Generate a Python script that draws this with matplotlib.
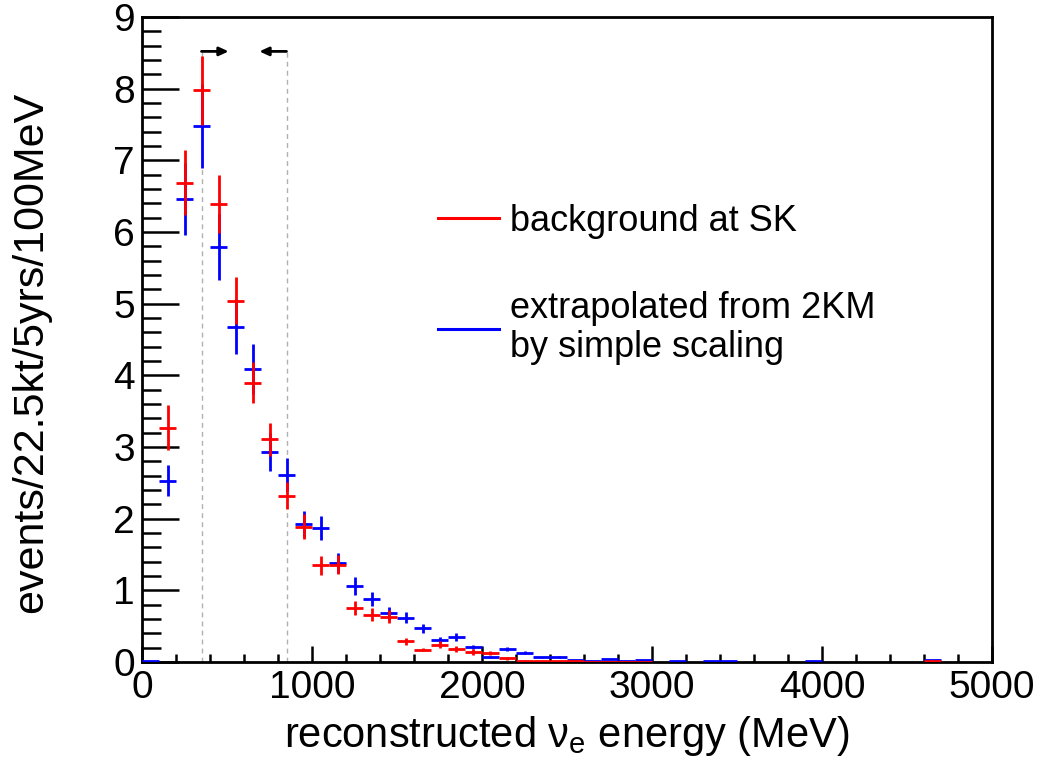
import matplotlib
matplotlib.use("Agg")
import matplotlib.pyplot as plt
from matplotlib.lines import Line2D
from matplotlib.ticker import MultipleLocator

plt.rcParams['font.family'] = ['Liberation Sans', 'DejaVu Sans']
plt.rcParams['mathtext.default'] = 'regular'

# ---- data (bin centres in MeV, 100 MeV bins) ----
red_x = [150, 250, 350, 450, 550, 650, 750, 850, 950, 1050, 1150, 1250, 1350, 1450,
         1550, 1650, 1750, 1850, 1950, 2050, 2150, 2250, 2350, 2450, 2550, 2650,
         2750, 2850, 2950, 4650]
red_y = [3.27, 6.69, 7.98, 6.39, 5.04, 3.90, 3.11, 2.32, 1.89, 1.35, 1.36, 0.75, 0.66, 0.63,
         0.29, 0.17, 0.24, 0.18, 0.14, 0.13, 0.05, 0.02, 0.01, 0.01, 0.01, 0.005,
         0.005, 0.005, 0.005, 0.01]
red_err = [0.31, 0.45, 0.48, 0.40, 0.33, 0.28, 0.23, 0.19, 0.18, 0.13, 0.13, 0.10, 0.09, 0.09,
           0.05, 0.02, 0.05, 0.04, 0.04, 0.03, 0.02, 0.01, 0.0, 0.0, 0.0, 0.0,
           0.0, 0.0, 0.0, 0.0]

blue_x = [50, 150, 250, 350, 450, 550, 650, 750, 850, 950, 1050, 1150, 1250, 1350, 1450,
          1550, 1650, 1750, 1850, 1950, 2050, 2150, 2250, 2350, 2450, 2550, 2650,
          2750, 2850, 2950, 3150, 3350, 3450, 3950, 4650]
blue_y = [0.01, 2.53, 6.46, 7.48, 5.79, 4.68, 4.09, 2.93, 2.61, 1.93, 1.87, 1.38, 1.06, 0.88, 0.68,
          0.62, 0.47, 0.31, 0.35, 0.21, 0.07, 0.18, 0.13, 0.065, 0.07, 0.03, 0.01,
          0.04, 0.01, 0.03, 0.01, 0.01, 0.01, 0.01, 0.03]
blue_err = [0.0, 0.22, 0.50, 0.59, 0.46, 0.38, 0.35, 0.26, 0.23, 0.18, 0.17, 0.14, 0.12, 0.10, 0.09,
            0.08, 0.06, 0.04, 0.05, 0.03, 0.02, 0.03, 0.02, 0.01, 0.01, 0.0, 0.0,
            0.0, 0.0, 0.0, 0.0, 0.0, 0.0, 0.0, 0.0]

bin_half_width = 50
cut_low, cut_high = 350, 850
arrow_y = 8.52
arrow_len = 160

label_red = "background at SK"
label_blue = "extrapolated from 2KM\nby simple scaling"
RED = '#ff0000'
BLUE = '#0000ff'

fig = plt.figure(figsize=(10.43, 7.61), dpi=100)
ax = fig.add_axes([142/1043, 1 - 662/761, (992-142)/1043, (662-17)/761])

ax.errorbar(blue_x, blue_y, yerr=blue_err, xerr=bin_half_width, fmt='none',
            ecolor=BLUE, elinewidth=2.0, capsize=0, zorder=3)
ax.errorbar(red_x, red_y, yerr=red_err, xerr=bin_half_width, fmt='none',
            ecolor=RED, elinewidth=2.0, capsize=0, zorder=4)

# cut lines and arrows
ax.vlines([cut_low, cut_high], 0, arrow_y, colors='#b0b0b0', linestyles=(0, (3.5, 3)),
          linewidth=1.0, zorder=2)
for start, sign in ((cut_low, 1), (cut_high, -1)):
    ax.annotate('', xy=(start + sign * arrow_len, arrow_y), xytext=(start, arrow_y),
                arrowprops=dict(arrowstyle='-|>,head_length=0.55,head_width=0.25',
                                color='black', lw=2.0, shrinkA=0, shrinkB=0))

ax.set_xlim(0, 5000)
ax.set_ylim(0, 9)
ax.xaxis.set_major_locator(MultipleLocator(1000))
ax.xaxis.set_minor_locator(MultipleLocator(200))
ax.yaxis.set_major_locator(MultipleLocator(1))
ax.yaxis.set_minor_locator(MultipleLocator(0.2))

ax.tick_params(axis='both', which='both', direction='in', top=False, right=False,
               labelsize=28, width=1.8, color='black')
ax.tick_params(axis='y', which='major', length=26.5, pad=5)
ax.tick_params(axis='y', which='minor', length=13.5)
ax.tick_params(axis='x', which='major', length=11.5, pad=6)
ax.tick_params(axis='x', which='minor', length=5.5)
for s in ax.spines.values():
    s.set_linewidth(2.0)

ax.set_xlabel("reconstructed ν$_{e}$ energy (MeV)", fontsize=30)
ax.xaxis.set_label_coords(0.5, (662 - 747) / 645)
ax.xaxis.label.set_va('baseline')
ax.set_ylabel("events/22.5kt/5yrs/100MeV", fontsize=31)
ax.yaxis.set_label_coords((31 - 142) / 850, (662 - 352) / 645)
ax.yaxis.label.set_va('center')

handles = [Line2D([], [], color=RED, lw=2.2), Line2D([], [], color=BLUE, lw=2.2)]
leg = ax.legend(handles, [label_red, label_blue], loc='upper left',
                bbox_to_anchor=((438 - 142) / 850, 1 - (204 - 17) / 645),
                frameon=False, fontsize=26, handlelength=1.7, handletextpad=0.3,
                labelspacing=1.45, borderaxespad=0, borderpad=0)
for t in leg.get_texts():
    t.set_linespacing(1.15)

fig.savefig("out.png", dpi=100)
